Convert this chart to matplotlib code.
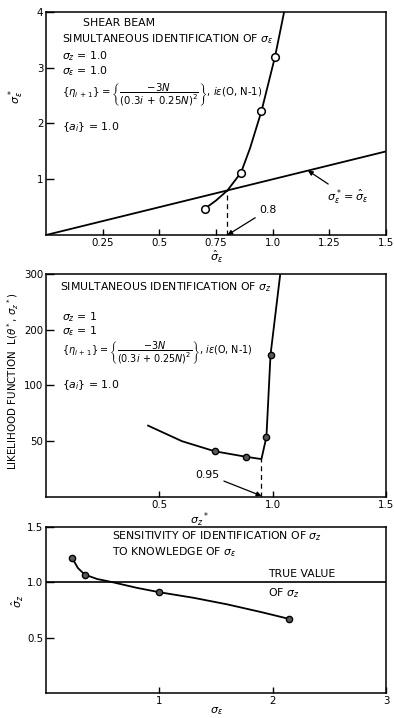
import numpy as np
import matplotlib
matplotlib.use("Agg")
import matplotlib.pyplot as plt

FONTSIZE = 7.4
TEXTSIZE = 7.8
plt.rcParams.update({
    "font.family": "DejaVu Sans",
    "font.size": FONTSIZE,
    "mathtext.fontset": "dejavusans",
    "axes.linewidth": 1.1,
    "xtick.direction": "in",
    "ytick.direction": "in",
})

# --- shear beam, identification of sigma_eps ---
p1_curve_x = [0.70, 0.75, 0.80, 0.86, 0.90, 0.95, 1.01, 1.05]
p1_curve_y = [0.47, 0.62, 0.80, 1.12, 1.56, 2.22, 3.20, 4.00]
p1_pts_x = [0.70, 0.86, 0.95, 1.01]
p1_pts_y = [0.47, 1.12, 2.22, 3.20]
p1_equal_x = [0.0, 1.5]
p1_equal_y = [0.0, 1.5]
p1_cross = 0.8
p1_xticks = [0.25, 0.5, 0.75, 1.0, 1.25, 1.5]
p1_xlabels = ["0.25", "0.5", "0.75", "1.0", "1.25", "1.5"]
p1_yticks = [1, 2, 3, 4]

# --- likelihood function vs sigma_z* ---
p2_curve_x = [0.45, 0.60, 0.744, 0.884, 0.95, 0.972, 0.99, 1.033]
p2_curve_y = [64, 50, 41, 36, 34, 54, 155, 300]
p2_pts_x = [0.744, 0.884, 0.972, 0.99]
p2_pts_y = [41, 36, 54, 155]
p2_min = 0.95
p2_min_val = 34
p2_xticks = [0.5, 1.0, 1.5]
p2_xlabels = ["0.5", "1.0", "1.5"]
p2_yticks = [50, 100, 200, 300]
p2_scale_vals = [0, 50, 100, 200, 300]

# --- sensitivity of sigma_z to sigma_eps ---
p3_curve_x = [0.23, 0.28, 0.34, 0.45, 0.59, 0.80, 1.00, 1.30, 1.60, 1.90, 2.14]
p3_curve_y = [1.22, 1.13, 1.07, 1.03, 1.00, 0.95, 0.91, 0.86, 0.80, 0.73, 0.67]
p3_pts_x = [0.23, 0.34, 1.00, 2.14]
p3_pts_y = [1.22, 1.07, 0.91, 0.67]
p3_true = 1.0
p3_xticks = [1, 2, 3]
p3_yticks = [0.5, 1.0, 1.5]
p3_ylabels = ["0.5", "1.0", "1.5"]

FORMULA = (r"$\left\{\eta_{i\,+\,1}\right\} = "
           r"\left\{\dfrac{-3N}{(0.3i\,+\,0.25N)^2}\right\}$, $i\epsilon$(O, N-1)")
AI_LINE = r"$\left\{a_i\right\}$ = 1.0"

# piecewise scale: 0, 50, 100, 200, 300 equally spaced on the axis
_sv = [-1e6] + p2_scale_vals + [1e6]
_sp = [-1e6 / 50.0] + list(range(len(p2_scale_vals))) + [4 + (1e6 - 300) / 100.0]


def lik_fwd(v):
    return np.interp(v, _sv, _sp)


def lik_inv(p):
    return np.interp(p, _sp, _sv)


def style(ax):
    ax.tick_params(axis="x", length=4, width=1.0, pad=2)
    ax.tick_params(axis="y", length=6, width=1.0, pad=2)


def put(ax, fx, fy, s, size=TEXTSIZE, **kw):
    ax.text(fx, fy, s, transform=ax.transAxes, va="center", ha="left",
            fontsize=size, **kw)


def arrow_props():
    return dict(arrowstyle="-|>", color="black", lw=0.9, mutation_scale=7,
                shrinkA=1, shrinkB=0)


fig = plt.figure(figsize=(3.94, 7.18), dpi=100)
left, width = 0.117, 0.863
ax1 = fig.add_axes([left, 0.6727, width, 0.3106])
ax2 = fig.add_axes([left, 0.3078, width, 0.3106])
ax3 = fig.add_axes([left, 0.0350, width, 0.2310])

# panel 1
ax1.plot(p1_equal_x, p1_equal_y, color="black", lw=1.3)
ax1.plot(p1_curve_x, p1_curve_y, color="black", lw=1.3)
ax1.plot(p1_pts_x, p1_pts_y, "o", ms=5.5, mfc="white", mec="black", mew=1.1)
ax1.plot([p1_cross, p1_cross], [0, p1_cross], color="black", lw=0.9,
         ls=(0, (4, 3)))
ax1.set_xlim(0, 1.5)
ax1.set_ylim(0, 4)
ax1.set_xticks(p1_xticks)
ax1.set_xticklabels(p1_xlabels)
ax1.set_yticks(p1_yticks)
ax1.set_xlabel(r"$\hat{\sigma}_\epsilon$", fontsize=8, labelpad=1)
ax1.set_ylabel(r"$\sigma_\epsilon^*$", fontsize=8, rotation=90)
ax1.yaxis.set_label_coords(-0.06, 0.62)
style(ax1)
put(ax1, 0.108, 0.951, "SHEAR BEAM")
put(ax1, 0.047, 0.879, r"SIMULTANEOUS IDENTIFICATION OF $\sigma_\epsilon$")
put(ax1, 0.047, 0.800, r"$\sigma_z$ = 1.0")
put(ax1, 0.047, 0.735, r"$\sigma_\epsilon$ = 1.0")
put(ax1, 0.047, 0.630, FORMULA, size=7.3)
put(ax1, 0.047, 0.484, AI_LINE)
ax1.annotate(r"$\sigma_\epsilon^* = \hat{\sigma}_\epsilon$",
             xy=(1.155, 1.155), xytext=(1.24, 0.68), ha="left", va="center",
             fontsize=8, arrowprops=arrow_props())
ax1.annotate("0.8", xy=(p1_cross, 0.0), xytext=(0.94, 0.45), ha="left",
             va="center", fontsize=TEXTSIZE, arrowprops=arrow_props())

# panel 2
ax2.set_yscale("function", functions=(lik_fwd, lik_inv))
ax2.plot(p2_curve_x, p2_curve_y, color="black", lw=1.3)
ax2.plot(p2_pts_x, p2_pts_y, "o", ms=4.5, mfc="0.35", mec="black", mew=1.0)
ax2.plot([p2_min, p2_min], [0, p2_min_val], color="black", lw=0.9,
         ls=(0, (4, 3)))
ax2.set_xlim(0, 1.5)
ax2.set_ylim(0, 300)
ax2.set_xticks(p2_xticks)
ax2.set_xticklabels(p2_xlabels)
ax2.set_yticks(p2_yticks)
ax2.set_yticklabels([str(v) for v in p2_yticks])
ax2.yaxis.set_minor_locator(matplotlib.ticker.NullLocator())
ax2.set_xlabel(r"$\sigma_z{}^*$", fontsize=8, labelpad=1)
ax2.xaxis.set_label_coords(0.45, -0.06)
ax2.set_ylabel(r"LIKELIHOOD FUNCTION  L($\theta^*$, $\sigma_z{}^*$)",
               fontsize=7.4)
ax2.yaxis.set_label_coords(-0.075, 0.52)
style(ax2)
put(ax2, 0.041, 0.942, r"SIMULTANEOUS IDENTIFICATION OF $\sigma_z$")
put(ax2, 0.047, 0.805, r"$\sigma_z$ = 1")
put(ax2, 0.047, 0.742, r"$\sigma_\epsilon$ = 1")
put(ax2, 0.047, 0.645, FORMULA, size=6.9)
put(ax2, 0.047, 0.500, AI_LINE)
ax2.annotate("0.95", xy=(p2_min, 1.0), xytext=(0.66, 20), ha="left",
             va="center", fontsize=TEXTSIZE, arrowprops=arrow_props())

# panel 3
ax3.axhline(p3_true, color="black", lw=1.2)
ax3.plot(p3_curve_x, p3_curve_y, color="black", lw=1.3)
ax3.plot(p3_pts_x, p3_pts_y, "o", ms=4.5, mfc="0.35", mec="black", mew=1.0)
ax3.set_xlim(0, 3)
ax3.set_ylim(0, 1.5)
ax3.set_xticks(p3_xticks)
ax3.set_yticks(p3_yticks)
ax3.set_yticklabels(p3_ylabels)
ax3.set_xlabel(r"$\sigma_\epsilon$", fontsize=8, labelpad=0)
ax3.set_ylabel(r"$\hat{\sigma}_z$", fontsize=8)
ax3.yaxis.set_label_coords(-0.06, 0.55)
style(ax3)
put(ax3, 0.193, 0.946, r"SENSITIVITY OF IDENTIFICATION OF $\sigma_z$")
put(ax3, 0.193, 0.850, r"TO KNOWLEDGE OF $\sigma_\epsilon$")
put(ax3, 0.652, 0.719, "TRUE VALUE")
put(ax3, 0.652, 0.599, r"OF $\sigma_z$")

fig.savefig("out.png", dpi=100)
